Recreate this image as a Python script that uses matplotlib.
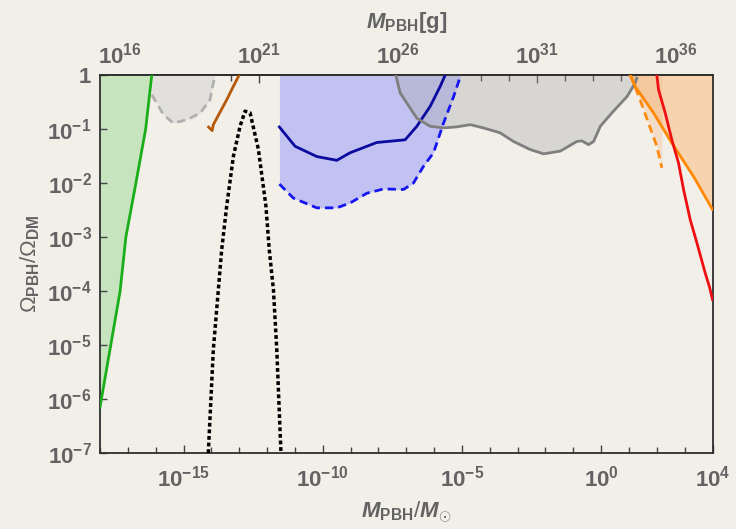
import numpy as np
import matplotlib
matplotlib.use('Agg')
from matplotlib import pyplot as plt
from matplotlib.ticker import FixedLocator, FuncFormatter, NullFormatter

plt.rcParams['mathtext.fontset'] = 'custom'
plt.rcParams['mathtext.rm'] = 'Liberation Sans'
plt.rcParams['mathtext.bf'] = 'Liberation Sans:bold'
plt.rcParams['mathtext.it'] = 'Liberation Sans:italic'
plt.rcParams['mathtext.bfit'] = 'Liberation Sans:bold:italic'
plt.rcParams['font.family'] = ['Liberation Sans', 'DejaVu Sans']

MSUN_G = 2.0e33

# all curves as log10(M/Msun), log10(Omega_PBH/Omega_DM)
green_lx = [-18.0, -17.28, -17.07, -16.71, -16.36, -16.14]
green_ly = [-6.15, -4.01, -3.0, -2.0, -1.0, 0.0]

lgray_lx = [-16.14, -15.72, -15.37, -14.89, -14.41, -14.05, -13.93, -13.87]
lgray_ly = [-0.365, -0.735, -0.89, -0.83, -0.71, -0.46, -0.15, 0.0]

brown_lx = [-14.10, -13.97, -13.93, -13.45, -13.21, -13.0]
brown_ly = [-0.965, -1.03, -0.92, -0.46, -0.21, 0.0]

peak_lx = [-14.11, -13.93, -13.75, -13.63, -13.45, -13.21, -12.97, -12.79,
           -12.61, -12.31, -12.04, -11.92, -11.77, -11.65, -11.50]
peak_ly = [-7.0, -5.09, -3.98, -3.24, -2.43, -1.51, -0.95, -0.67,
           -0.70, -1.38, -2.43, -3.24, -3.98, -5.09, -7.0]

bdash_lx = [-11.557, -11.054, -10.213, -9.494, -9.017, -8.417, -7.82, -7.10,
            -6.74, -6.38, -6.02, -5.66, -5.30, -5.04]
bdash_ly = [-2.02, -2.28, -2.46, -2.46, -2.37, -2.19, -2.11, -2.12,
            -2.0, -1.69, -1.44, -0.89, -0.40, 0.0]

bsolid_lx = [-11.557, -10.993, -10.213, -9.494, -9.017, -8.06, -7.04, -6.62,
             -6.14, -5.78, -5.60]
bsolid_ly = [-0.963, -1.32, -1.51, -1.58, -1.44, -1.25, -1.20, -0.95,
             -0.58, -0.21, 0.0]

gray_lx = [-7.375, -7.22, -6.62, -6.14, -5.66, -5.18, -4.70, -4.23, -3.63,
           -3.15, -2.55, -2.07, -1.47, -0.87, -0.69, -0.45, -0.27, -0.03,
           0.44, 0.93, 1.22, 1.28]
gray_ly = [0.0, -0.33, -0.80, -0.95, -0.98, -0.96, -0.92, -0.98, -1.07,
           -1.23, -1.38, -1.46, -1.41, -1.23, -1.22, -1.29, -1.23, -0.95,
           -0.67, -0.40, -0.15, -0.06]

orange_lx = [1.04, 1.22, 1.88, 2.54, 3.32, 4.0]
orange_ly = [0.0, -0.21, -0.70, -1.26, -1.88, -2.49]

odash_lx = [1.05, 1.10, 1.40, 1.70, 2.0, 2.18]
odash_ly = [0.0, -0.06, -0.46, -0.89, -1.32, -1.72]

red_lx = [2.0, 2.06, 2.30, 2.54, 2.78, 2.96, 3.20, 3.44, 3.74, 3.90, 4.0]
red_ly = [0.0, -0.27, -0.70, -1.20, -1.63, -2.12, -2.68, -3.11, -3.67, -3.94, -4.16]

bottom_ticks = [1e-15, 1e-10, 1e-5, 1e0, 1e4]
bottom_labels = [r'$\mathbf{10^{-15}}$', r'$\mathbf{10^{-10}}$', r'$\mathbf{10^{-5}}$',
                 r'$\mathbf{10^{0}}$', r'$\mathbf{10^{4}}$']
top_ticks = [1e16, 1e21, 1e26, 1e31, 1e36]
top_labels = [r'$\mathbf{10^{16}}$', r'$\mathbf{10^{21}}$', r'$\mathbf{10^{26}}$',
              r'$\mathbf{10^{31}}$', r'$\mathbf{10^{36}}$']
y_ticks = [1e-7, 1e-6, 1e-5, 1e-4, 1e-3, 1e-2, 1e-1, 1]
y_labels = [r'$\mathbf{10^{-7}}$', r'$\mathbf{10^{-6}}$', r'$\mathbf{10^{-5}}$',
            r'$\mathbf{10^{-4}}$', r'$\mathbf{10^{-3}}$', r'$\mathbf{10^{-2}}$',
            r'$\mathbf{10^{-1}}$', r'$\mathbf{1}$']


def p(v):
    return np.power(10.0, np.array(v))


bg = '#f2efe9'
txt = '#636363'
fig = plt.figure(figsize=(7.36, 5.29), dpi=100, facecolor=bg)
ax = fig.add_axes([100 / 736, 76 / 529, 612.5 / 736, 378 / 529], facecolor=bg)
ax.set_xscale('log')
ax.set_yscale('log')
ax.set_xlim(1e-18, 1e4)
ax.set_ylim(1e-7, 1)

# fills
ax.fill_betweenx(p(green_ly), 1e-18, p(green_lx), color='#c6e4bd', lw=0, zorder=1)
ax.fill_between(p(lgray_lx), p(lgray_ly), 1, color='#e2e0dc', lw=0, zorder=1)
ax.fill_between(p(bdash_lx), p(bdash_ly), 1, color='#c2c2f2', lw=0, zorder=1)
ax.fill_between(p(gray_lx), p(gray_ly), 1, color='#a8a8a8', alpha=0.35, lw=0, zorder=2)
ax.fill_between(p(orange_lx), p(orange_ly), 1, color='#f7d3b0', lw=0, zorder=1)
ax.fill_betweenx(p(odash_ly), p(odash_lx), p(odash_lx[-1]), color='#f3b27a',
                 alpha=0.3, lw=0, zorder=2)

# lines
ax.plot(p(green_lx), p(green_ly), color='#1aae1a', lw=2, zorder=3)
ax.plot(p(lgray_lx), p(lgray_ly), color='#b0b0b0', lw=2, dashes=(3, 1.8), zorder=3)
ax.plot(p(brown_lx), p(brown_ly), color='#b5580a', lw=2, zorder=3)
ax.plot(p(peak_lx), p(peak_ly), color='black', lw=2.5, dashes=(1.1, 0.8), zorder=3)
ax.plot(p(bdash_lx), p(bdash_ly), color='#1515ee', lw=2, dashes=(3, 1.8), zorder=3)
ax.plot(p(bsolid_lx), p(bsolid_ly), color='#0a0a9e', lw=2, zorder=3)
ax.plot(p(gray_lx), p(gray_ly), color='#7f7f7f', lw=2, zorder=3)
ax.plot(p(odash_lx), p(odash_ly), color='#ff8a10', lw=2, dashes=(3, 1.8), zorder=3)
ax.plot(p(orange_lx), p(orange_ly), color='#ff8800', lw=2, zorder=3)
ax.plot(p(red_lx), p(red_ly), color='#ee1010', lw=2, zorder=3)

for s in ax.spines.values():
    s.set_color('#2e2e2e')
    s.set_linewidth(1.3)

ax.xaxis.set_major_locator(FixedLocator(bottom_ticks))
ax.set_xticklabels(bottom_labels)
ax.xaxis.set_minor_locator(FixedLocator([10.0 ** k for k in range(-18, 5)]))
ax.xaxis.set_minor_formatter(NullFormatter())
ax.yaxis.set_major_locator(FixedLocator(y_ticks))
ax.set_yticklabels(y_labels)
ax.yaxis.set_minor_locator(FixedLocator([]))
ax.tick_params(which='both', direction='in', color='#444444', width=1, labelcolor=txt,
               labelsize=16)
ax.tick_params(axis='x', which='major', length=6, pad=9)
ax.tick_params(axis='x', which='minor', length=4)
ax.tick_params(axis='y', which='major', length=5, pad=6)
ax.tick_params(right=False, top=False)

sec = ax.secondary_xaxis('top', functions=(lambda m: m * MSUN_G, lambda g: g / MSUN_G))
sec.xaxis.set_major_locator(FixedLocator(top_ticks))
sec.set_xticklabels(top_labels)
sec.xaxis.set_minor_locator(FixedLocator([10.0 ** k for k in range(15, 38)]))
sec.xaxis.set_minor_formatter(NullFormatter())
sec.tick_params(which='both', direction='in', color='#444444', width=1, labelcolor=txt,
                labelsize=16)
sec.tick_params(which='major', length=6, pad=5)
sec.tick_params(which='minor', length=4)
sec.spines['top'].set_color('#2e2e2e')
sec.spines['top'].set_linewidth(1.3)
sec.set_xlabel(r'$\mathbfit{M}_{\mathbf{PBH}}\mathbf{[g]}$', color=txt, fontsize=16, labelpad=10)

ax.set_xlabel(r'$\mathbfit{M}_{\mathbf{PBH}}/\mathbfit{M}_{\odot}$', color=txt, fontsize=16,
              labelpad=6)
ax.set_ylabel(r'$\Omega_{\mathbf{PBH}}/\Omega_{\mathbf{DM}}$', color=txt, fontsize=16,
              labelpad=4)

plt.savefig('out.png', dpi=100, facecolor=bg)
